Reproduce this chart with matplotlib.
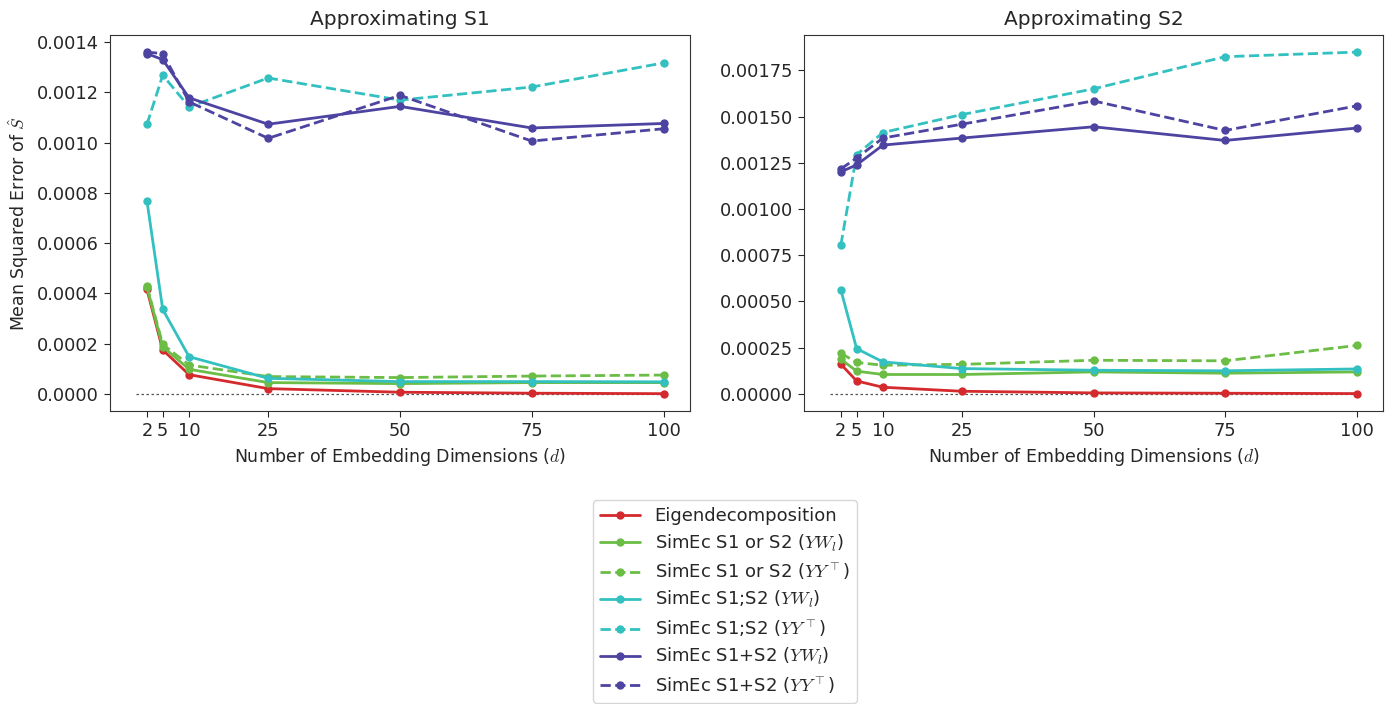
import matplotlib
matplotlib.use("Agg")
import matplotlib.pyplot as plt
import seaborn as sns

sns.set_style("ticks")
plt.rcParams['font.family'] = ['DejaVu Sans']
plt.rcParams['mathtext.fontset'] = 'cm'

dims = [2, 5, 10, 25, 50, 75, 100]
xticks = [2, 5, 10, 25, 50, 75, 100]

labels = [
    "Eigendecomposition",
    r"SimEc S1 or S2 ($YW_l$)",
    r"SimEc S1 or S2 ($YY^\top$)",
    r"SimEc S1;S2 ($YW_l$)",
    r"SimEc S1;S2 ($YY^\top$)",
    r"SimEc S1+S2 ($YW_l$)",
    r"SimEc S1+S2 ($YY^\top$)",
]
colors = ["#d42a2e", "#6bbd45", "#6bbd45", "#33c0c0", "#33c0c0", "#4d43a0", "#4d43a0"]
styles = ["-", "-", "--", "-", "--", "-", "--"]

# Approximating S1
s1_eig = [0.000416, 0.000175, 0.0000766, 0.000021, 0.0000067, 0.0000028, 0.000001]
s1_single_ywl = [0.000426, 0.000188, 0.000098, 0.000045, 0.000041, 0.000045, 0.000045]
s1_single_yyt = [0.000429, 0.000197, 0.000115, 0.000069, 0.000065, 0.000071, 0.000075]
s1_concat_ywl = [0.000769, 0.000336, 0.000148, 0.000062, 0.000049, 0.000049, 0.000048]
s1_concat_yyt = [0.001072, 0.001268, 0.001142, 0.001257, 0.001169, 0.001221, 0.001317]
s1_sum_ywl = [0.001354, 0.001330, 0.001178, 0.001073, 0.001144, 0.001058, 0.001076]
s1_sum_yyt = [0.001360, 0.001354, 0.001162, 0.001017, 0.001188, 0.001006, 0.001055]

# Approximating S2
s2_eig = [0.000161, 0.000070, 0.000036, 0.0000144, 0.0000054, 0.0000036, 0.0000018]
s2_single_ywl = [0.000188, 0.000123, 0.000105, 0.000105, 0.000119, 0.000112, 0.000119]
s2_single_yyt = [0.000220, 0.000170, 0.000155, 0.000160, 0.000182, 0.000179, 0.000262]
s2_concat_ywl = [0.000563, 0.000245, 0.000173, 0.000137, 0.000128, 0.000125, 0.000135]
s2_concat_yyt = [0.000805, 0.001294, 0.001414, 0.001511, 0.001650, 0.001824, 0.001849]
s2_sum_ywl = [0.001201, 0.001239, 0.001346, 0.001384, 0.001445, 0.001371, 0.001438]
s2_sum_yyt = [0.001217, 0.001276, 0.001384, 0.001459, 0.001585, 0.001425, 0.001558]

panels = [
    ("Approximating S1", [s1_eig, s1_single_ywl, s1_single_yyt, s1_concat_ywl,
                          s1_concat_yyt, s1_sum_ywl, s1_sum_yyt]),
    ("Approximating S2", [s2_eig, s2_single_ywl, s2_single_yyt, s2_concat_ywl,
                          s2_concat_yyt, s2_sum_ywl, s2_sum_yyt]),
]

fig = plt.figure(figsize=(13.92, 7.04), dpi=100)
ax1 = fig.add_axes([110/1392, 1-411/704, 580/1392, 376/704])
ax2 = fig.add_axes([804/1392, 1-411/704, 579/1392, 376/704])

handles = []
for ax, (title, series) in zip([ax1, ax2], panels):
    ax.plot([0, 100], [0, 0], color="#555555", linestyle=(0, (2, 2)), linewidth=0.9)
    hs = []
    for vals, c, ls, lab in zip(series, colors, styles, labels):
        h, = ax.plot(dims, vals, color=c, linestyle=ls, linewidth=2, marker="o",
                     markersize=5, label=lab)
        hs.append(h)
    handles = hs
    ax.set_title(title, fontsize=14.5, pad=7)
    ax.set_xticks(xticks)
    ax.tick_params(labelsize=12.8, length=4.5)
    ax.set_xlabel(r"Number of Embedding Dimensions ($d$)", fontsize=12.5)
    for s in ax.spines.values():
        s.set_color("#333333")

ax1.set_ylabel(r"Mean Squared Error of $\hat{S}$", fontsize=12.5)

fig.legend(handles, labels, loc="upper center", bbox_to_anchor=(725/1392, 1-500/704),
           borderaxespad=0.0, fontsize=13, frameon=True, handlelength=2.2,
           labelspacing=0.4)

fig.savefig("out.png", dpi=100)
